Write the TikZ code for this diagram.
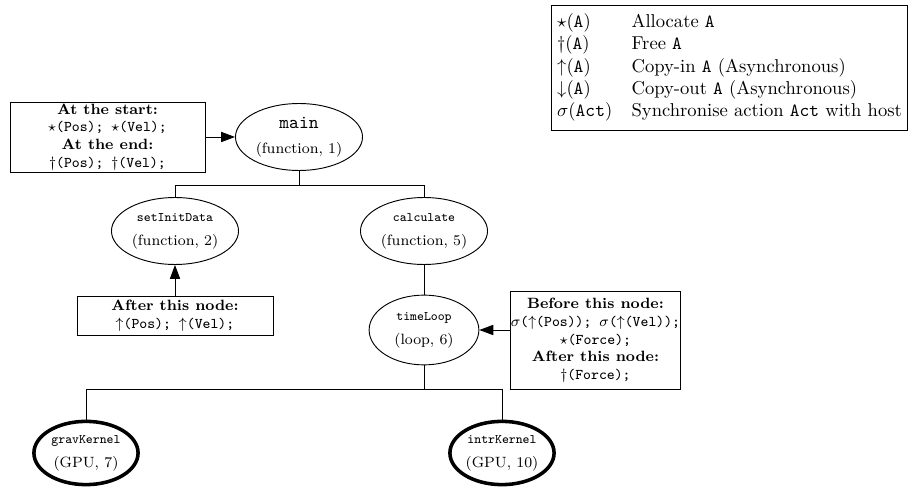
\documentclass[tikz,border=0pt]{standalone}
\usetikzlibrary{shapes.geometric,arrows.meta}
\begin{document}
\begin{tikzpicture}[x=0.5376pt,y=-0.5376pt,
  every node/.style={inner sep=0pt},
  fn/.style={ellipse,draw,line width=0.5pt,minimum width=68.3pt,minimum height=36pt,align=center},
  kern/.style={ellipse,draw,line width=1.9pt,minimum width=56pt,minimum height=34pt,align=center},
  annot/.style={rectangle,draw,line width=0.5pt,align=center,font=\footnotesize},
  link/.style={line width=0.5pt},
  arr/.style={line width=0.5pt,-{Triangle[length=7.5pt,width=5.5pt]}}
]
\useasboundingbox (0,0) rectangle (910,487);

% legend
\node[draw,line width=0.5pt,anchor=north east,inner xsep=3pt,inner ysep=3.5pt] (legend) at (908,5) {%
  \begin{tabular}{@{}p{40pt}@{}l@{}}
  $\star$(\texttt{A}) & Allocate \texttt{A}\\
  $\dagger$(\texttt{A}) & Free \texttt{A}\\
  $\uparrow$(\texttt{A}) & Copy-in \texttt{A} (Asynchronous)\\
  $\downarrow$(\texttt{A}) & Copy-out \texttt{A} (Asynchronous)\\
  $\sigma$(\texttt{Act}) & Synchronise action \texttt{Act} with host
  \end{tabular}};

% call tree
\node[fn] (main) at (299,137) {\texttt{main}\\[1.5pt]{\footnotesize (function, 1)}};
\node[fn] (setinit) at (175,231) {{\scriptsize\texttt{setInitData}}\\[1pt]{\footnotesize (function, 2)}};
\node[fn] (calc) at (424,231) {{\scriptsize\texttt{calculate}}\\[1pt]{\footnotesize (function, 5)}};
\node[fn,minimum width=59pt,minimum height=37.5pt] (loop) at (424,330) {{\scriptsize\texttt{timeLoop}}\\[1pt]{\footnotesize (loop, 6)}};
\node[kern] (grav) at (86,453) {{\scriptsize\texttt{gravKernel}}\\[1pt]{\footnotesize (GPU, 7)}};
\node[kern] (intr) at (502,453) {{\scriptsize\texttt{intrKernel}}\\[1pt]{\footnotesize (GPU, 10)}};

% data movement annotations
\node[annot,minimum width=104.8pt,minimum height=37.6pt] (start) at (107.5,137)
  {\textbf{At the start:}\\ $\star$\texttt{(Pos); }$\star$\texttt{(Vel);}\\ \textbf{At the end:}\\ $\dagger$\texttt{(Pos); }$\dagger$\texttt{(Vel);}};
\node[annot,minimum width=105.4pt,minimum height=21pt] (after) at (175,315.5)
  {\textbf{After this node:}\\ $\uparrow$\texttt{(Pos); }$\uparrow$\texttt{(Vel);}};
\node[annot,minimum width=91pt,minimum height=52.2pt] (before) at (595.5,340.5)
  {\textbf{Before this node:}\\ $\sigma$\texttt{(}$\uparrow$\texttt{(Pos)); }$\sigma$\texttt{(}$\uparrow$\texttt{(Vel));}\\ $\star$\texttt{(Force);}\\ \textbf{After this node:}\\ $\dagger$\texttt{(Force);}};

% tree edges
\draw[link] (main.south) -- ++(0,15) -| (setinit.north);
\draw[link] (main.south) -- ++(0,15) -| (calc.north);
\draw[link] (calc.south) -- (loop.north);
\draw[link] (loop.south) -- ++(0,24) -| (grav.north);
\draw[link] (loop.south) -- ++(0,24) -| (intr.north);

% annotation arrows
\draw[arr] (start.east) -- (main.west);
\draw[arr] (after.north) -- (setinit.south);
\draw[arr] (before.west |- loop.east) -- (loop.east);
\end{tikzpicture}
\end{document}
